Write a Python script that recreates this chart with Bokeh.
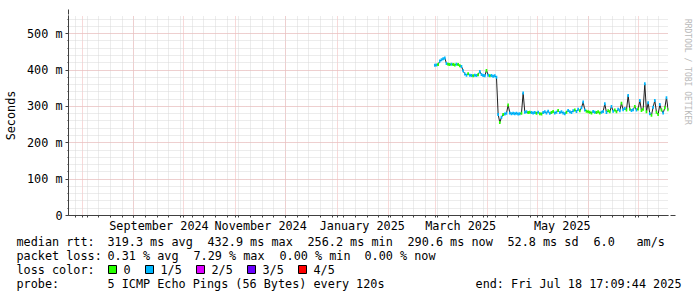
import math
import pandas as pd
from bokeh.plotting import figure
from bokeh.layouts import column, row
from bokeh.models import Range1d, FixedTicker, Arrow, NormalHead, ColumnDataSource
from bokeh.core.properties import value
from bokeh.embed import file_html
from bokeh.resources import INLINE

# ---------------- data ----------------
first_day = "2025-02-28"          # one median value per day, 12:00
rtt_feb = [413]
rtt_mar = [414, 415, 425, 428, 431, 433, 418, 416, 415, 416,
           415, 414, 416, 415, 412, 410, 398, 389, 386, 390,
           386, 385, 384, 386, 385, 387, 396, 388, 385, 384, 399]
rtt_apr = [386, 384, 385, 383, 384, 380, 278, 256, 270, 278,
           279, 281, 304, 282, 280, 281, 280, 281, 279, 280,
           281, 337, 284, 285, 283, 284, 283, 282, 283, 281]
rtt_may = [284, 280, 279, 283, 285, 282, 287, 281, 283, 286,
           282, 284, 289, 283, 285, 282, 280, 284, 289, 285,
           283, 288, 290, 286, 292, 288, 296, 312, 290, 287, 285]
rtt_jun = [284, 282, 286, 284, 283, 285, 282, 284, 286, 307,
           283, 288, 285, 300, 287, 290, 285, 292, 288, 309,
           291, 294, 290, 330, 292, 289, 291, 300, 290, 293]
rtt_jul = [316, 289, 292, 362, 285, 310, 280, 276, 298, 316,
           284, 278, 305, 290, 282, 296, 324, 290.6]

# packet loss per day, in fifths (0 = none, 1 = 1/5 ...)
loss_feb = [1]
loss_mar = [1, 0, 1, 1, 1, 1, 1, 0, 0, 1, 0, 0, 1, 0, 0, 1,
            1, 1, 1, 0, 1, 1, 0, 1, 1, 0, 1, 1, 1, 1, 0]
loss_apr = [1, 0, 1, 1, 1, 1, 1, 0, 1, 0, 1, 1, 0,
            1, 1, 1, 1, 1, 1, 1, 0, 1, 1, 1, 0, 0, 1, 1, 1, 0]
loss_may = [1, 0, 0, 1, 1, 1, 1, 1, 0, 0, 1, 1, 0, 1, 1, 1,
            1, 0, 1, 1, 1, 1, 0, 1, 1, 0, 1, 1, 1, 0, 0]
loss_jun = [0, 0, 1, 1, 0, 0, 0, 1, 1, 1, 1, 0, 0, 1, 1,
            0, 0, 1, 1, 0, 1, 1, 0, 1, 0, 1, 1, 0, 1, 0]
loss_jul = [1, 0, 0, 1, 0, 1, 1, 0, 1, 1, 0, 0, 1, 0, 1, 0, 1, 0]

loss_labels = ["0", "1/5", "2/5", "3/5", "4/5"]
loss_colors = ["#26ff00", "#00b8ff", "#dd00ff", "#6a00ff", "#ff0000"]

y_ticks = [0, 100, 200, 300, 400, 500]
y_tick_labels = ["0", "100 m", "200 m", "300 m", "400 m", "500 m"]
x_label_months = ["2024-09-01", "2024-11-01", "2025-01-01", "2025-03-01", "2025-05-01"]
x_tick_labels = ["September 2024", "November 2024", "January 2025", "March 2025", "May 2025"]

end_time = "2025-07-18 17:09:44"

stats_rtt = ["median rtt:", "319.3 ms avg", "432.9 ms max", "256.2 ms min",
             "290.6 ms now", "52.8 ms sd", "6.0", "am/s"]
stats_loss = ["packet loss:", "0.31 % avg", "7.29 % max", "0.00 % min", "0.00 % now"]
probe_texts = ["loss color:", "probe:", "5 ICMP Echo Pings (56 Bytes) every 120s"]
end_text = "end: Fri Jul 18 17:09:44 2025"
watermark = "RRDTOOL / TOBI OETIKER"

# ---------------- build ----------------
rtt_ms = rtt_feb + rtt_mar + rtt_apr + rtt_may + rtt_jun + rtt_jul
loss_fifths = loss_feb + loss_mar + loss_apr + loss_may + loss_jun + loss_jul
days = pd.date_range(first_day, periods=len(rtt_ms), freq="D") + pd.Timedelta(hours=12)


def ms(ts):
    return pd.Timestamp(ts).timestamp() * 1000.0


end = pd.Timestamp(end_time)
start = end - pd.Timedelta(days=360)

FONT = "DejaVu Sans Mono"
FS = "11.8px"
AXC = "#404040"

p = figure(width=680, height=235, x_axis_type="datetime",
           x_range=Range1d(start, end), y_range=Range1d(0, 550),
           output_backend="svg", toolbar_location=None,
           min_border_left=66, min_border_right=12,
           min_border_top=15, min_border_bottom=20)
p.outline_line_color = None
p.background_fill_color = "white"
p.border_fill_color = "white"

# grids
month_ms = [ms(d) for d in pd.date_range("2024-08-01", "2025-07-01", freq="MS")]
week_ms = [ms(d) for d in pd.date_range("2024-07-28", "2025-07-13", freq="7D")]
y_minor = list(range(0, 560, 20))
p.xgrid.ticker = FixedTicker(ticks=month_ms, minor_ticks=week_ms)
p.ygrid.ticker = FixedTicker(ticks=y_ticks, minor_ticks=y_minor)
for g in (p.xgrid, p.ygrid):
    g.grid_line_color = "#f0b2b2"
    g.grid_line_dash = "1 1"
    g.grid_line_width = 1
    g.minor_grid_line_color = "#d8d8d8"
    g.minor_grid_line_dash = "1 1"
    g.minor_grid_line_width = 1

# y axis
yax = p.yaxis[0]
yax.ticker = FixedTicker(ticks=y_ticks, minor_ticks=y_minor)
yax.major_label_overrides = dict(zip(y_ticks, y_tick_labels))
yax.major_label_text_font = FONT
yax.major_label_text_font_size = FS
yax.major_label_text_color = "black"
yax.major_tick_out = 3
yax.major_tick_in = 0
yax.minor_tick_out = 1
yax.minor_tick_in = 0
yax.major_label_standoff = 3
yax.axis_line_color = AXC
yax.major_tick_line_color = AXC
yax.minor_tick_line_color = AXC
yax.axis_label = "Seconds"
yax.axis_label_text_font = FONT
yax.axis_label_text_font_size = FS
yax.axis_label_text_font_style = "normal"
yax.axis_label_text_color = "black"
yax.axis_label_standoff = 6

# x axis
label_ms = [ms(pd.Timestamp(d) + pd.Timedelta(days=15)) for d in x_label_months]
xax = p.xaxis[0]
xax.ticker = FixedTicker(ticks=label_ms, minor_ticks=week_ms + month_ms)
xax.major_label_overrides = dict(zip(label_ms, x_tick_labels))
xax.major_label_text_font = FONT
xax.major_label_text_font_size = FS
xax.major_label_text_color = "black"
xax.major_tick_line_color = None
xax.major_tick_out = 0
xax.major_tick_in = 0
xax.minor_tick_out = 2
xax.minor_tick_in = 0
xax.minor_tick_line_color = AXC
xax.major_label_standoff = 1
xax.axis_line_color = AXC

# data
src = ColumnDataSource(dict(t=days, rtt=rtt_ms,
                            color=[loss_colors[v] for v in loss_fifths]))
p.line("t", "rtt", source=src, line_color="#202020", line_width=1)
p.rect(x="t", y="rtt", width=86400000, height=3, height_units="screen",
       fill_color="color", line_color=None, source=src)

# arrows at the ends of the axes
AR = "#8b1010"
p.add_layout(Arrow(end=NormalHead(size=5, fill_color=AR, line_color=AR),
                   x_start=0, y_start=0, x_end=0, y_end=206,
                   start_units="screen", end_units="screen",
                   line_color=AXC, line_width=1))
p.add_layout(Arrow(end=NormalHead(size=5, fill_color=AR, line_color=AR),
                   x_start=-3, y_start=0, x_end=607, y_end=0,
                   start_units="screen", end_units="screen",
                   line_color=AXC, line_width=1))


def blank(fig):
    fig.outline_line_color = None
    fig.background_fill_color = "white"
    fig.border_fill_color = "white"
    fig.xgrid.visible = False
    fig.ygrid.visible = False
    return fig


# watermark strip at the right (pixel-like coordinates, y downwards)
wm = blank(figure(width=17, height=235, x_range=Range1d(680, 697), y_range=Range1d(235, 0),
                  output_backend="svg", toolbar_location=None, min_border=0,
                  x_axis_location=None, y_axis_location=None))
wm.text(x=[687], y=[4], text=[watermark], angle=-math.pi / 2,
        text_font=value(FONT), text_font_size=value("8px"), text_color="#b8b8b8",
        text_align="left", text_baseline="middle")

# legend / statistics block below (pixel-like coordinates, y downwards)
lg = blank(figure(width=697, height=62, x_range=Range1d(0, 697), y_range=Range1d(297, 235),
                  output_backend="svg", toolbar_location=None, min_border=0,
                  x_axis_location=None, y_axis_location=None))
row_y = [241, 255, 269, 283]
tx, ty, tt = [], [], []
for txt, cx in zip(stats_rtt, [16, 107, 207, 307, 407, 507, 593, 636]):
    tx.append(cx); ty.append(row_y[0]); tt.append(txt)
for txt, cx in zip(stats_loss, [16, 107, 193, 279, 364]):
    tx.append(cx); ty.append(row_y[1]); tt.append(txt)
for txt, cx, cy in zip(probe_texts, [16, 16, 107], [row_y[2], row_y[3], row_y[3]]):
    tx.append(cx); ty.append(cy); tt.append(txt)
box_x = [112, 149, 200, 251, 302]
for lab, bx in zip(loss_labels, box_x):
    tx.append(bx + 11); ty.append(row_y[2]); tt.append(lab)
lg.text(x=tx, y=ty, text=tt, text_font=value(FONT), text_font_size=value(FS),
        text_color="black", text_align="left", text_baseline="middle")
lg.text(x=[681], y=[row_y[3]], text=[end_text], text_font=value(FONT),
        text_font_size=value(FS), text_color="black", text_align="right",
        text_baseline="middle")
lg.rect(x=box_x, y=[row_y[2]] * 5, width=8, height=8, fill_color=loss_colors,
        line_color="black", line_width=1)

layout = column(row(p, wm), lg)
open("out.html", "w").write(file_html(layout, INLINE))
